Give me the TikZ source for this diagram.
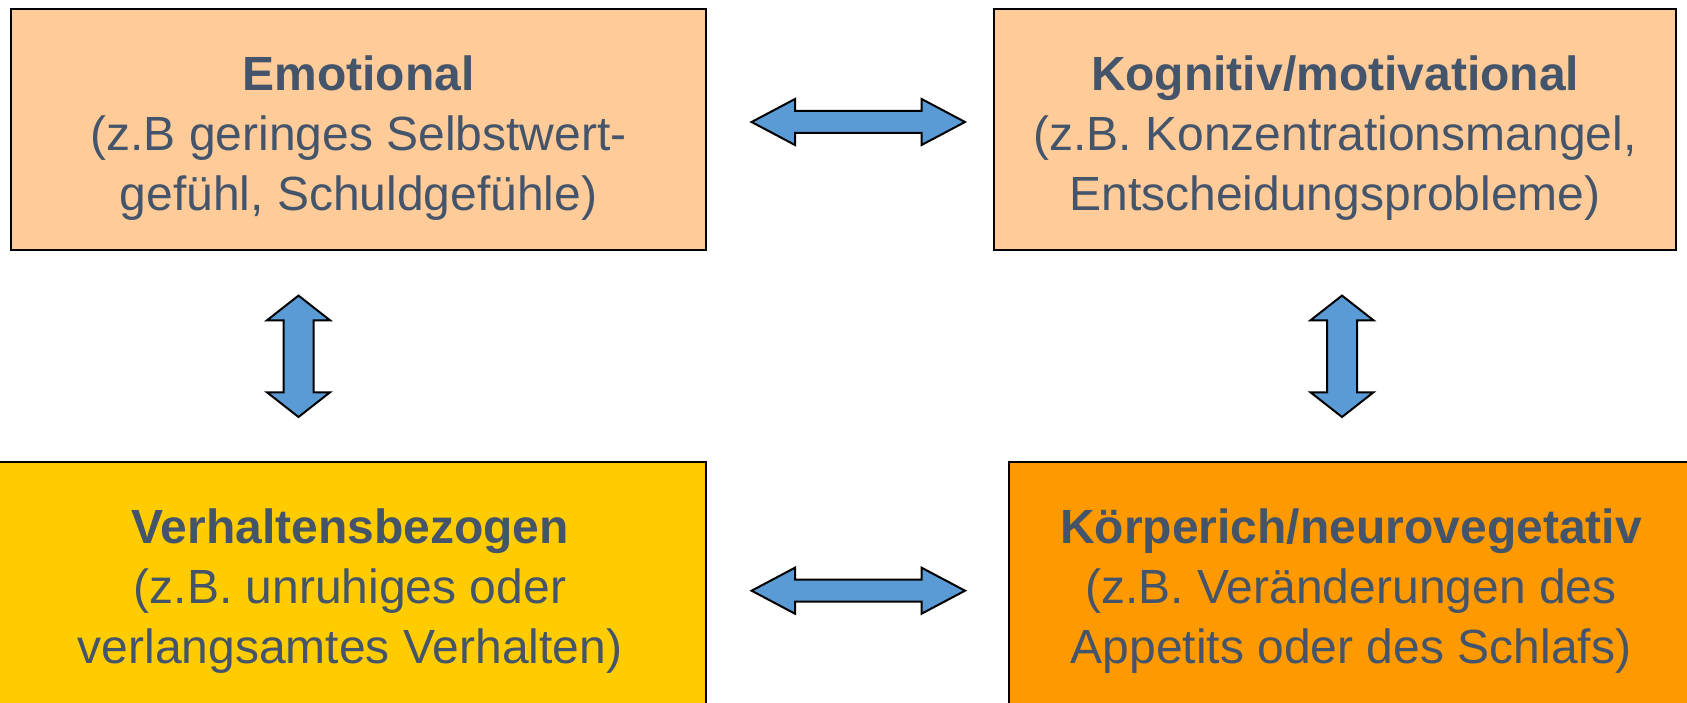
\documentclass[tikz,border=0pt]{standalone}
\usepackage{fontspec}
\setmainfont{Liberation Sans}
\definecolor{peach}{HTML}{FFCC99}
\definecolor{gold}{HTML}{FFCC00}
\definecolor{orangebox}{HTML}{FF9900}
\definecolor{arrowblue}{HTML}{5B9BD5}
\definecolor{textslate}{HTML}{44546A}
\tikzset{
  box/.style={draw=black, line width=2pt, rectangle, inner sep=0pt},
  boxtext/.style={inner sep=0pt, align=center, text=textslate, font=\fontsize{48}{60}\selectfont},
  arrowshape/.style={draw=black, line width=2pt, fill=arrowblue, line join=miter},
  harrow/.pic={\draw[arrowshape] (-106.7,0) -- (-63.3,-23) -- (-63.3,-11) -- (63.3,-11) -- (63.3,-23)
     -- (106.7,0) -- (63.3,23) -- (63.3,11) -- (-63.3,11) -- (-63.3,23) -- cycle;},
  varrow/.pic={\draw[arrowshape] (0,-60.7) -- (31.5,-36) -- (15,-36) -- (15,36) -- (31.5,36)
     -- (0,60.7) -- (-31.5,36) -- (-15,36) -- (-15,-36) -- (-31.5,-36) -- cycle;}
}
\begin{document}
\begin{tikzpicture}[x=1pt,y=-1pt]
\useasboundingbox (0,0) rectangle (1687,703);
\clip (0,0) rectangle (1687,703);
\node[box, fill=peach, minimum width=695pt, minimum height=241pt] (emo) at (358.5,129.5) {};
\node[box, fill=peach, minimum width=682pt, minimum height=241pt] (kog) at (1335,129.5) {};
\node[box, fill=gold, minimum width=716pt, minimum height=248pt] (verh) at (348,586) {};
\node[box, fill=orangebox, minimum width=688pt, minimum height=248pt] (koerp) at (1353,586) {};
\node[boxtext] (emotext) at ([yshift=-8.5pt]emo.center)
  {\textbf{Emotional}\\(z.B geringes Selbstwert-\\gefühl, Schuldgefühle)};
\node[boxtext] (kogtext) at ([yshift=-8.5pt]kog.center)
  {\textbf{Kognitiv/motivational}\\(z.B. Konzentrationsmangel,\\Entscheidungsprobleme)};
\node[boxtext] (verhtext) at ([xshift=2pt,yshift=-5pt]verh.center)
  {\textbf{Verhaltensbezogen}\\(z.B. unruhiges oder\\verlangsamtes Verhalten)};
\node[boxtext] (koerptext) at ([xshift=-2pt,yshift=-5pt]koerp.center)
  {\textbf{Körperich/neurovegetativ}\\(z.B. Veränderungen des\\Appetits oder des Schlafs)};
\pic (a1) at (858.3,122) {harrow};
\pic (a2) at (858.3,590.7) {harrow};
\pic (a3) at (298.5,356.3) {varrow};
\pic (a4) at (1342,356.3) {varrow};
\end{tikzpicture}
\end{document}
